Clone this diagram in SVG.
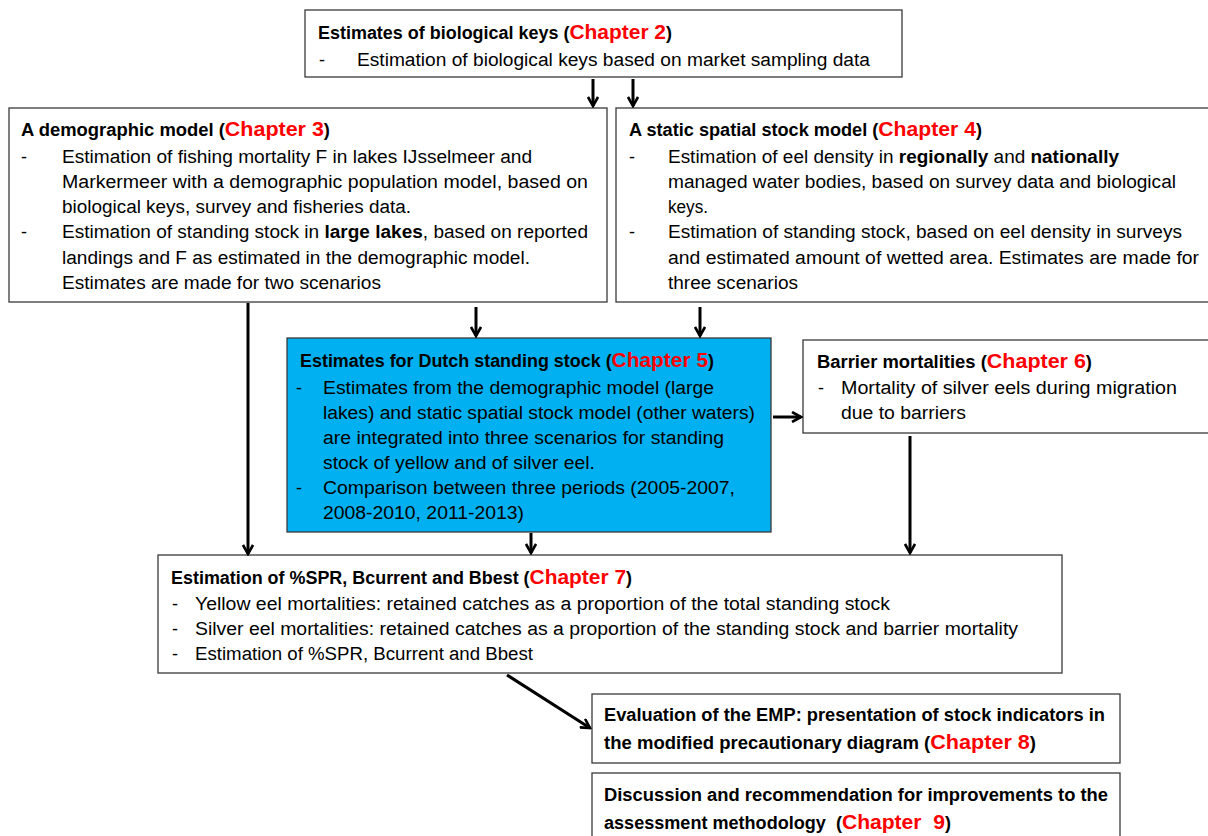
<svg xmlns="http://www.w3.org/2000/svg" width="1208" height="836" viewBox="0 0 1208 836">
<style>
.box{fill:#ffffff;stroke:#3a3a3a;stroke-width:1.3}
.blue{fill:#00b0f0;stroke:#3a3a3a;stroke-width:1.3}
text{font-family:"Liberation Sans",Arial,sans-serif;font-size:18px;fill:#000}
.t{font-weight:bold}
.ch{fill:#ff0000;font-size:21px;font-weight:bold}
.b{font-weight:bold}
.arr{stroke:#000;stroke-width:3;fill:none}
</style>
<defs>
<marker id="ah" viewBox="0 0 12 12" refX="10" refY="6" markerWidth="12" markerHeight="12" markerUnits="userSpaceOnUse" orient="auto">
<path d="M1,1 L10,6 L1,11" fill="none" stroke="#000" stroke-width="2.6"/>
</marker>
</defs>

<g id="n-ch2">
<rect class="box" x="305" y="10" width="597" height="67"/>
<text class="t" x="318" y="39" textLength="354" lengthAdjust="spacingAndGlyphs">Estimates of biological keys (<tspan class="ch">Chapter 2</tspan>)</text>
<text x="319" y="66">-</text>
<text x="357" y="66" textLength="513" lengthAdjust="spacingAndGlyphs">Estimation of biological keys based on market sampling data</text>
</g>

<g id="n-ch3">
<rect class="box" x="9" y="108" width="598" height="194"/>
<text class="t" x="21" y="136" textLength="309" lengthAdjust="spacingAndGlyphs">A demographic model (<tspan class="ch">Chapter 3</tspan>)</text>
<text x="21" y="163">-</text>
<text x="62" y="163" textLength="470" lengthAdjust="spacingAndGlyphs">Estimation of fishing mortality F in lakes IJsselmeer and</text>
<text x="62" y="188" textLength="526" lengthAdjust="spacingAndGlyphs">Markermeer with a demographic population model, based on</text>
<text x="62" y="213" textLength="349" lengthAdjust="spacingAndGlyphs">biological keys, survey and fisheries data.</text>
<text x="21" y="238">-</text>
<text x="62" y="238" textLength="526" lengthAdjust="spacingAndGlyphs">Estimation of standing stock in <tspan class="b">large lakes</tspan>, based on reported</text>
<text x="62" y="264" textLength="468" lengthAdjust="spacingAndGlyphs">landings and F as estimated in the demographic model.</text>
<text x="62" y="289" textLength="319" lengthAdjust="spacingAndGlyphs">Estimates are made for two scenarios</text>
</g>

<g id="n-ch4">
<rect class="box" x="616" y="108" width="600" height="194"/>
<text class="t" x="629" y="136" textLength="353" lengthAdjust="spacingAndGlyphs">A static spatial stock model (<tspan class="ch">Chapter 4</tspan>)</text>
<text x="629" y="163">-</text>
<text x="668" y="163" textLength="451" lengthAdjust="spacingAndGlyphs">Estimation of eel density in <tspan class="b">regionally</tspan> and <tspan class="b">nationally</tspan></text>
<text x="668" y="188" textLength="508" lengthAdjust="spacingAndGlyphs">managed water bodies, based on survey data and biological</text>
<text x="668" y="213" textLength="40" lengthAdjust="spacingAndGlyphs">keys.</text>
<text x="629" y="238">-</text>
<text x="668" y="238" textLength="514" lengthAdjust="spacingAndGlyphs">Estimation of standing stock, based on eel density in surveys</text>
<text x="668" y="264" textLength="531" lengthAdjust="spacingAndGlyphs">and estimated amount of wetted area. Estimates are made for</text>
<text x="668" y="289" textLength="130" lengthAdjust="spacingAndGlyphs">three scenarios</text>
</g>

<g id="n-ch5">
<rect class="blue" x="287" y="338" width="484" height="194"/>
<text class="t" x="300" y="367" textLength="414" lengthAdjust="spacingAndGlyphs">Estimates for Dutch standing stock (<tspan class="ch">Chapter 5</tspan>)</text>
<text x="296" y="394">-</text>
<text x="323" y="394" textLength="391" lengthAdjust="spacingAndGlyphs">Estimates from the demographic model (large</text>
<text x="323" y="419" textLength="432" lengthAdjust="spacingAndGlyphs">lakes) and static spatial stock model (other waters)</text>
<text x="323" y="444" textLength="401" lengthAdjust="spacingAndGlyphs">are integrated into three scenarios for standing</text>
<text x="323" y="469" textLength="272" lengthAdjust="spacingAndGlyphs">stock of yellow and of silver eel.</text>
<text x="296" y="494">-</text>
<text x="323" y="494" textLength="412" lengthAdjust="spacingAndGlyphs">Comparison between three periods (2005-2007,</text>
<text x="323" y="519" textLength="201" lengthAdjust="spacingAndGlyphs">2008-2010, 2011-2013)</text>
</g>

<g id="n-ch6">
<rect class="box" x="803" y="340" width="413" height="93"/>
<text class="t" x="817" y="368" textLength="275" lengthAdjust="spacingAndGlyphs">Barrier mortalities (<tspan class="ch">Chapter 6</tspan>)</text>
<text x="818" y="394">-</text>
<text x="841" y="394" textLength="336" lengthAdjust="spacingAndGlyphs">Mortality of silver eels during migration</text>
<text x="841" y="419" textLength="125" lengthAdjust="spacingAndGlyphs">due to barriers</text>
</g>

<g id="n-ch7">
<rect class="box" x="158" y="555" width="904" height="118"/>
<text class="t" x="171" y="584" textLength="461" lengthAdjust="spacingAndGlyphs">Estimation of %SPR, Bcurrent and Bbest (<tspan class="ch">Chapter 7</tspan>)</text>
<text x="172" y="610">-</text>
<text x="195" y="610" textLength="695" lengthAdjust="spacingAndGlyphs">Yellow eel mortalities: retained catches as a proportion of the total standing stock</text>
<text x="172" y="635">-</text>
<text x="195" y="635" textLength="823" lengthAdjust="spacingAndGlyphs">Silver eel mortalities: retained catches as a proportion of the standing stock and barrier mortality</text>
<text x="172" y="660">-</text>
<text x="195" y="660" textLength="338" lengthAdjust="spacingAndGlyphs">Estimation of %SPR, Bcurrent and Bbest</text>
</g>

<g id="n-ch8">
<rect class="box" x="592" y="694" width="528" height="69"/>
<text class="t" x="604" y="721" textLength="501" lengthAdjust="spacingAndGlyphs">Evaluation of the EMP: presentation of stock indicators in</text>
<text class="t" x="604" y="749" textLength="432" lengthAdjust="spacingAndGlyphs">the modified precautionary diagram (<tspan class="ch">Chapter 8</tspan>)</text>
</g>

<g id="n-ch9">
<rect class="box" x="592" y="773" width="528" height="70"/>
<text class="t" x="604" y="801" textLength="504" lengthAdjust="spacingAndGlyphs">Discussion and recommendation for improvements to the</text>
<text class="t" x="604" y="829" textLength="347" lengthAdjust="spacingAndGlyphs" xml:space="preserve">assessment methodology  (<tspan class="ch">Chapter  9</tspan>)</text>
</g>

<g id="connectors">
<line class="arr" x1="593" y1="79" x2="593" y2="106" marker-end="url(#ah)"/>
<line class="arr" x1="633" y1="79" x2="633" y2="106" marker-end="url(#ah)"/>
<line class="arr" x1="248" y1="303" x2="248" y2="554" marker-end="url(#ah)"/>
<line class="arr" x1="476" y1="307" x2="476" y2="336" marker-end="url(#ah)"/>
<line class="arr" x1="700" y1="307" x2="700" y2="336" marker-end="url(#ah)"/>
<line class="arr" x1="773" y1="417" x2="801" y2="417" marker-end="url(#ah)"/>
<line class="arr" x1="910" y1="436" x2="910" y2="553" marker-end="url(#ah)"/>
<line class="arr" x1="531" y1="533" x2="531" y2="553" marker-end="url(#ah)"/>
<line class="arr" x1="507" y1="675" x2="590" y2="728" marker-end="url(#ah)"/>
</g>
</svg>
